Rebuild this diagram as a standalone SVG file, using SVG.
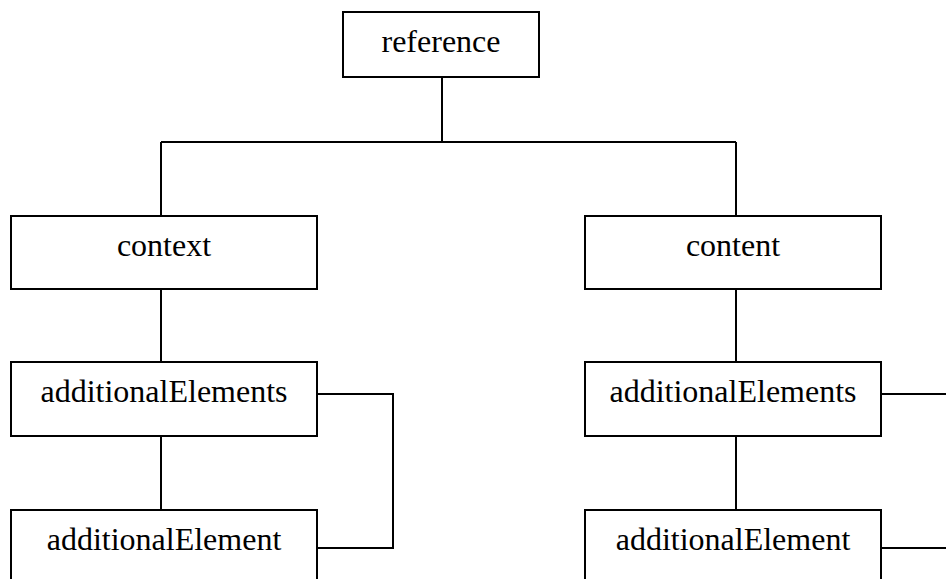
<svg xmlns="http://www.w3.org/2000/svg" width="946" height="579" viewBox="0 0 946 579">
<style>
.box{fill:#fff;stroke:#000;stroke-width:2}
.lbl{font-family:"Liberation Serif","Times New Roman",serif;font-size:32px;fill:#000;text-anchor:middle}
.conn{fill:none;stroke:#000;stroke-width:2}
</style>
<rect width="946" height="579" fill="#fff"/>
<g id="connectors">
<path class="conn" d="M442 77V142M161 142H736M161 142V216M736 142V216"/>
<path class="conn" d="M161 289V362M161 436V510"/>
<path class="conn" d="M736 289V362M736 436V510"/>
<path class="conn" d="M317 394H393V548H317"/>
<path class="conn" d="M881 394H946M881 548H946"/>
</g>
<g id="reference"><rect class="box" x="343" y="12" width="196" height="65"/><text class="lbl" x="441" y="52">reference</text></g>
<g id="context"><rect class="box" x="11" y="216" width="306" height="73"/><text class="lbl" x="164" y="256">context</text></g>
<g id="content"><rect class="box" x="585" y="216" width="296" height="73"/><text class="lbl" x="733" y="256">content</text></g>
<g id="context-additionalElements"><rect class="box" x="11" y="362" width="306" height="74"/><text class="lbl" x="164" y="402">additionalElements</text></g>
<g id="content-additionalElements"><rect class="box" x="585" y="362" width="296" height="74"/><text class="lbl" x="733" y="402">additionalElements</text></g>
<g id="context-additionalElement"><rect class="box" x="11" y="510" width="306" height="80"/><text class="lbl" x="164" y="550">additionalElement</text></g>
<g id="content-additionalElement"><rect class="box" x="585" y="510" width="296" height="80"/><text class="lbl" x="733" y="550">additionalElement</text></g>
</svg>
